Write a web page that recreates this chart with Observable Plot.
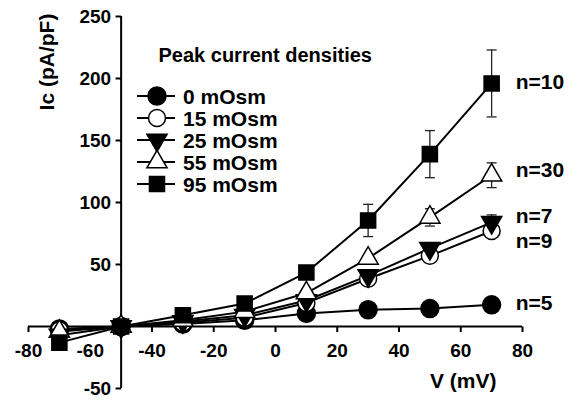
<!DOCTYPE html>
<html><head><meta charset="utf-8">
<script src="https://cdn.jsdelivr.net/npm/d3@7"></script>
<script src="https://cdn.jsdelivr.net/npm/@observablehq/plot@0.6"></script>
<style>
body{margin:0;background:#fff}
#chart{width:568px;height:402px}
svg text{font-family:"Liberation Sans",Arial,sans-serif;font-weight:bold}
</style>
</head><body><div id="chart"></div>
<script>
const voltages = [-70, -50, -30, -10, 10, 30, 50, 70];
const seriesNames = ["0 mOsm", "15 mOsm", "25 mOsm", "55 mOsm", "95 mOsm"];
const mean0  = [-2, 0, 2, 5, 10.5, 13.5, 14.5, 17.5];
const mean15 = [-3, 0, 3, 7, 19, 38.5, 57, 77];
const mean25 = [-7, 0, 4, 9, 21, 41, 63, 84];
const mean55 = [-4, 0, 5, 12, 27, 55, 88, 122];
const mean95 = [-13, 0, 9, 18.5, 43.5, 85.5, 139, 196];
const se0  = [0.5, 0, 0.5, 1, 1, 1.5, 2, 2];
const se15 = [0.5, 0, 1, 1, 2, 3, 4, 5];
const se25 = [0.5, 0, 1, 1, 2, 3, 4, 6];
const se55 = [0.5, 0, 1, 2, 3, 3, 7, 10];
const se95 = [1, 0, 2, 3, 4, 13, 19, 27];
const nLabels = ["n=5", "n=9", "n=7", "n=30", "n=10"];
const nLabelY = [19, 69, 89, 126, 197];
const xTicks = [-80, -60, -40, -20, 0, 20, 40, 60, 80];
const yTicks = [-50, 0, 50, 100, 150, 200, 250];
const yTickLabels = [-50, 50, 100, 150, 200, 250];

const triangleDown = {
  draw(context, size) {
    const y = -Math.sqrt(size / (Math.sqrt(3) * 3));
    context.moveTo(0, -y * 2);
    context.lineTo(-Math.sqrt(3) * y, y);
    context.lineTo(Math.sqrt(3) * y, y);
    context.closePath();
  }
};
const capSymbol = {
  draw(context) { context.moveTo(-5, 0); context.lineTo(5, 0); }
};

const means = [mean0, mean15, mean25, mean55, mean95];
const ses = [se0, se15, se25, se55, se95];
const styles = [
  {symbol: "circle", fill: "black", r: 9},
  {symbol: "circle", fill: "white", r: 8.5},
  {symbol: triangleDown, fill: "black", r: 7.5},
  {symbol: "triangle", fill: "white", r: 7.5},
  {symbol: "square", fill: "black", r: 8.5}
];

const rows = [];
seriesNames.forEach((s, i) => voltages.forEach((v, j) =>
  rows.push({series: s, idx: i, v, m: means[i][j], e: ses[i][j]})));

const marks = [];
// axes
marks.push(Plot.ruleY([0], {x1: -80, x2: 80, stroke: "black", strokeWidth: 2}));
marks.push(Plot.ruleX([-50], {y1: -50, y2: 250, stroke: "black", strokeWidth: 2}));
marks.push(Plot.link(xTicks, {x1: d => d, x2: d => d, y1: 0, y2: -4.5, stroke: "black", strokeWidth: 2}));
marks.push(Plot.link(yTicks, {x1: -50, x2: -51.8, y1: d => d, y2: d => d, stroke: "black", strokeWidth: 2}));
marks.push(Plot.text(xTicks, {x: d => d, y: 0, dy: 24, text: d => String(d), fontSize: 19, fill: "black"}));
marks.push(Plot.text(yTickLabels, {x: -50, y: d => d, dx: -10, textAnchor: "end", text: d => String(d), fontSize: 19, fill: "black"}));
// lines
seriesNames.forEach((s, i) => {
  marks.push(Plot.line(rows.filter(r => r.idx === i), {x: "v", y: "m", stroke: "black", strokeWidth: 2}));
});
// error bars
marks.push(Plot.ruleX(rows.filter(r => r.e > 0), {x: "v", y1: d => d.m - d.e, y2: d => d.m + d.e, stroke: "#222", strokeWidth: 1.3}));
marks.push(Plot.dot(rows.filter(r => r.e > 0), {x: "v", y: d => d.m + d.e, symbol: capSymbol, r: 3, stroke: "#222", strokeWidth: 1.3, fill: "none"}));
marks.push(Plot.dot(rows.filter(r => r.e > 0), {x: "v", y: d => d.m - d.e, symbol: capSymbol, r: 3, stroke: "#222", strokeWidth: 1.3, fill: "none"}));
// markers
seriesNames.forEach((s, i) => {
  const st = styles[i];
  marks.push(Plot.dot(rows.filter(r => r.idx === i), {x: "v", y: "m", symbol: st.symbol, r: st.r, fill: st.fill, stroke: "black", strokeWidth: 1.5}));
});
// n labels
marks.push(Plot.text(nLabels, {x: 70, y: (d, i) => nLabelY[i], dx: 24, textAnchor: "start", text: d => d, fontSize: 21, fill: "black"}));
// titles
marks.push(Plot.text(["Peak current densities"], {frameAnchor: "top-left", dx: 130, dy: 31, textAnchor: "start", text: d => d, fontSize: 20, fill: "black"}));
marks.push(Plot.text(["V (mV)"], {frameAnchor: "bottom-right", dx: -26, dy: -1, text: d => d, fontSize: 21, fill: "black"}));

const chart = Plot.plot({
  width: 568, height: 402,
  marginLeft: 28, marginRight: 46, marginTop: 16, marginBottom: 14,
  x: {domain: [-80, 80], axis: null},
  y: {domain: [-50, 250], axis: null},
  style: {fontFamily: "'Liberation Sans', Arial, sans-serif", fontWeight: "bold", background: "white", overflow: "visible"},
  marks
});
document.getElementById("chart").appendChild(chart);

const svg = d3.select(chart);
// y axis title
svg.append("text").attr("transform", "translate(46,62) rotate(-90)")
  .attr("text-anchor", "middle").attr("dy", "0.36em")
  .attr("font-size", 21).attr("font-weight", "bold").attr("fill", "black").text("Ic (pA/pF)");
// legend
const lg = svg.append("g");
seriesNames.forEach((s, i) => {
  const y = 96 + i * 22;
  const st = styles[i];
  lg.append("line").attr("x1", 137).attr("x2", 175).attr("y1", y).attr("y2", y).attr("stroke", "black").attr("stroke-width", 2);
  const sym = st.symbol === "circle" ? d3.symbolCircle : st.symbol === "triangle" ? d3.symbolTriangle : st.symbol === "square" ? d3.symbolSquare : st.symbol;
  lg.append("path").attr("transform", `translate(157,${y})`)
    .attr("d", d3.symbol(sym, st.r * st.r * Math.PI)())
    .attr("fill", st.fill).attr("stroke", "black").attr("stroke-width", 1.5);
  lg.append("text").attr("x", 183).attr("y", y).attr("dy", "0.36em").attr("text-anchor", "start")
    .attr("font-size", 21).attr("font-weight", "bold").attr("fill", "black").text(s);
});
</script>
</body></html>
